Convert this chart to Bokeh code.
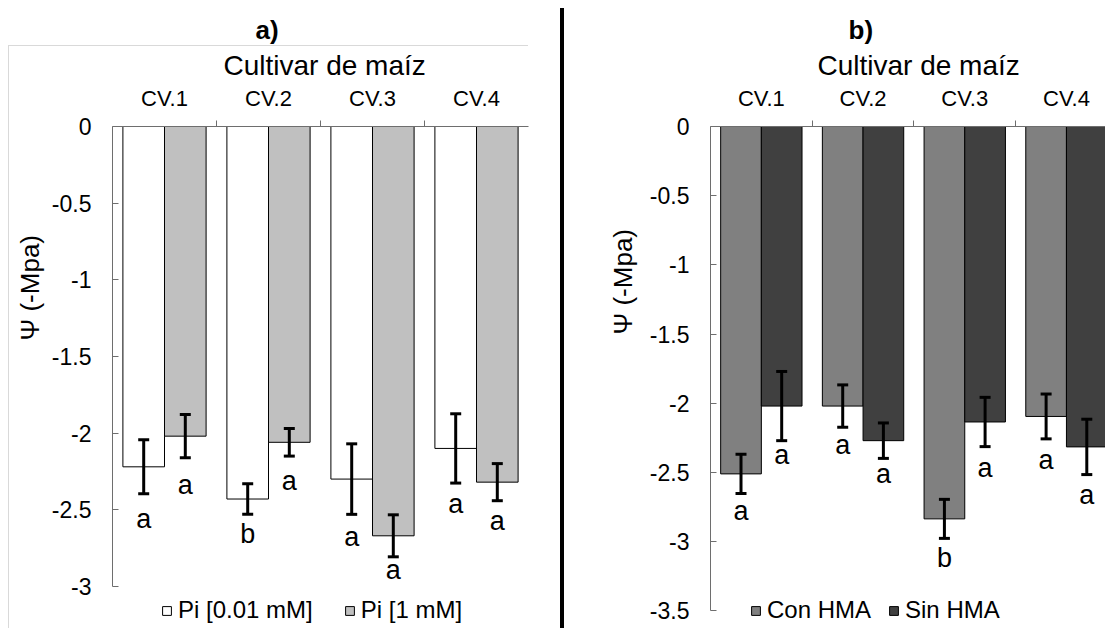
from bokeh.plotting import figure
from bokeh.models import (ColumnDataSource, Range1d, LinearAxis, FixedTicker,
                          CustomJSTickFormatter, Whisker, TeeHead, Legend,
                          LegendItem, Title, Spacer)
from bokeh.transform import dodge
from bokeh.layouts import row
from bokeh.core.properties import value
from bokeh.embed import file_html
from bokeh.resources import INLINE

# ---------------- data ----------------
cultivars = ["CV.1", "CV.2", "CV.3", "CV.4"]
y_ticks_a = [0, -0.5, -1, -1.5, -2, -2.5, -3]
y_ticks_b = [0, -0.5, -1, -1.5, -2, -2.5, -3, -3.5]

# panel a: phosphate level
pi_low = [-2.22, -2.43, -2.30, -2.10]        # Pi [0.01 mM]
pi_low_err = [0.176, 0.100, 0.230, 0.226]
pi_high = [-2.02, -2.06, -2.67, -2.32]       # Pi [1 mM]
pi_high_err = [0.141, 0.090, 0.137, 0.121]
pi_low_letters = ["a", "b", "a", "a"]
pi_high_letters = ["a", "a", "a", "a"]
pi_low_letter_y = [-2.56, -2.66, -2.68, -2.46]
pi_high_letter_y = [-2.34, -2.31, -2.89, -2.575]

# panel b: mycorrhiza
con_hma = [-2.51, -2.02, -2.835, -2.095]
con_hma_err = [0.142, 0.153, 0.141, 0.162]
sin_hma = [-2.02, -2.27, -2.135, -2.315]
sin_hma_err = [0.250, 0.128, 0.178, 0.200]
con_letters = ["a", "a", "b", "a"]
sin_letters = ["a", "a", "a", "a"]
con_letter_y = [-2.78, -2.30, -3.12, -2.41]
sin_letter_y = [-2.37, -2.51, -2.47, -2.665]

FONT = "Liberation Sans"
AXIS_COLOR = "#6e6e6e"
H = 628
TOP = 126


def make_panel(width, left, right, xr_end, y_unit, yticks, s1, e1, l1, ly1,
               s2, e2, l2, ly2, colors, names, title_txt, title_off, cult_off,
               ylab_off, ylab_standoff, legend_loc, legend_spacing):
    y_start = -(H - TOP) / y_unit
    p = figure(width=width, height=H, x_range=Range1d(0, xr_end),
               y_range=Range1d(y_start, 0), output_backend="svg",
               toolbar_location=None, x_axis_location=None, y_axis_location=None,
               min_border_left=left, min_border_right=right,
               min_border_top=TOP, min_border_bottom=0)
    p.outline_line_color = None
    p.background_fill_color = "white"
    p.border_fill_alpha = 0
    p.grid.visible = False

    xs = [i + 0.5 for i in range(len(cultivars))]
    src = ColumnDataSource(dict(
        x=xs, v1=s1, v2=s2,
        up1=[v + e for v, e in zip(s1, e1)], lo1=[v - e for v, e in zip(s1, e1)],
        up2=[v + e for v, e in zip(s2, e2)], lo2=[v - e for v, e in zip(s2, e2)],
        t1=l1, t2=l2, ty1=ly1, ty2=ly2))

    r1 = p.vbar(x=dodge("x", -0.2), top="v1", bottom=0, width=0.4, source=src,
                fill_color=colors[0], line_color="black", line_width=1)
    r2 = p.vbar(x=dodge("x", 0.2), top="v2", bottom=0, width=0.4, source=src,
                fill_color=colors[1], line_color="black", line_width=1)

    for off, up, lo in ((-0.2, "up1", "lo1"), (0.2, "up2", "lo2")):
        w = Whisker(source=src, base=dodge("x", off), upper=up, lower=lo,
                    dimension="height", line_width=3, line_color="black",
                    level="annotation",
                    upper_head=TeeHead(size=11, line_width=3, line_color="black"),
                    lower_head=TeeHead(size=11, line_width=3, line_color="black"))
        p.add_layout(w)

    for off, ty, tt in ((-0.2, "ty1", "t1"), (0.2, "ty2", "t2")):
        p.text(x=dodge("x", off), y=ty, text=tt, source=src,
               text_font=value(FONT), text_font_size="27px",
               text_align="center", text_baseline="middle", text_color="black")

    # top category axis (labels at category centres, ticks between categories)
    xaxis = LinearAxis(
        ticker=FixedTicker(ticks=xs, minor_ticks=[1, 2, 3]),
        formatter=CustomJSTickFormatter(args=dict(labels=cultivars),
                                        code="return labels[Math.floor(tick)];"),
        major_tick_line_color=None, major_tick_in=0, major_tick_out=0,
        minor_tick_in=0, minor_tick_out=6, minor_tick_line_color=AXIS_COLOR,
        axis_line_color=AXIS_COLOR, axis_line_width=1,
        major_label_standoff=10, major_label_text_font=FONT,
        major_label_text_font_size="22px", major_label_text_color="black")
    p.add_layout(xaxis, "above")
    p.add_layout(Title(text="Cultivar de maíz", align="left", offset=cult_off,
                       text_font=FONT, text_font_size="28px", text_color="black",
                       text_font_style="normal", standoff=4), "above")
    p.title = Title(text=title_txt, align="left", offset=title_off,
                    text_font=FONT, text_font_size="26px", text_color="black",
                    text_font_style="bold", standoff=2)

    yaxis = LinearAxis(
        ticker=FixedTicker(ticks=yticks, minor_ticks=[]),
        formatter=CustomJSTickFormatter(code="return String(tick);"),
        bounds=(min(yticks), 0),
        major_tick_in=6, major_tick_out=0, major_tick_line_color=AXIS_COLOR,
        minor_tick_line_color=None,
        axis_line_color=AXIS_COLOR, axis_line_width=1,
        major_label_standoff=21, major_label_text_font=FONT,
        major_label_text_font_size="23px", major_label_text_color="black")
    p.add_layout(yaxis, "left")
    p.add_layout(Title(text="Ψ (-Mpa)", align="left", offset=ylab_off,
                       text_font=FONT, text_font_size="26px", text_color="black",
                       text_font_style="normal", standoff=ylab_standoff), "left")

    legend = Legend(items=[LegendItem(label=names[0], renderers=[r1]),
                           LegendItem(label=names[1], renderers=[r2])],
                    orientation="horizontal", location=legend_loc,
                    glyph_width=11, glyph_height=11, label_standoff=6,
                    spacing=legend_spacing, padding=0, margin=0,
                    border_line_color=None, background_fill_alpha=0,
                    label_text_font=FONT, label_text_font_size="24px",
                    label_text_color="black")
    p.add_layout(legend, "center")
    return p


# ----- panel a -----
pa = make_panel(560, 112, 32, 4.0, 153.3, y_ticks_a,
                pi_low, pi_low_err, pi_low_letters, pi_low_letter_y,
                pi_high, pi_high_err, pi_high_letters, pi_high_letter_y,
                ("white", "#c0c0c0"), ("Pi [0.01 mM]", "Pi [1 mM]"),
                "a)", 143, 111, 288, 8, (49, 4), 31)
pa.styles = {
    "background-image": "linear-gradient(#d9d9d9,#d9d9d9), linear-gradient(#d9d9d9,#d9d9d9)",
    "background-size": "520px 1px, 1px 583px",
    "background-position": "8px 45px, 8px 45px",
    "background-repeat": "no-repeat",
}

# ----- separator -----
sep = Spacer(width=4, height=620, margin=(8, 0, 0, 0),
             styles={"background-color": "black"})

# ----- panel b -----
b_left = 146
b_unit = 101.7
pb = make_panel(541, b_left, 0, (541 - b_left) / b_unit, 138.4, y_ticks_b,
                con_hma, con_hma_err, con_letters, con_letter_y,
                sin_hma, sin_hma_err, sin_letters, sin_letter_y,
                ("#808080", "#404040"), ("Con HMA", "Sin HMA"),
                "b)", 138, 107, 294, 17, (40, 4), 17)

layout = row(pa, sep, pb, spacing=0)
open("out.html", "w").write(file_html(layout, INLINE))
